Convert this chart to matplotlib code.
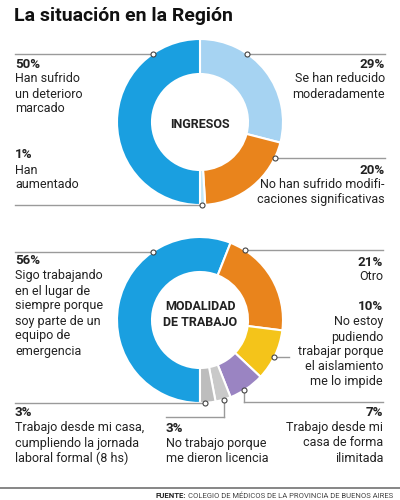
import numpy as np
import matplotlib.pyplot as plt

plt.rcParams['font.family'] = ['Roboto', 'DejaVu Sans']

# Data
ing_labels = ['Se han reducido moderadamente', 'No han sufrido modificaciones significativas',
              'Han aumentado', 'Han sufrido un deterioro marcado']
ing_values = [29, 20, 1, 50]
ing_colors = ['#a6d3f2', '#e9841c', '#c4e8f6', '#1a9fe0']

mod_labels = ['Sigo trabajando en el lugar de siempre', 'Otro', 'No estoy pudiendo trabajar',
              'Trabajo desde mi casa de forma ilimitada', 'No trabajo porque me dieron licencia',
              'Trabajo desde mi casa, jornada formal']
mod_values = [56, 21, 10, 7, 3, 3]
mod_colors = ['#1a9fe0', '#e9841c', '#f4c41a', '#9a84c2', '#c9c9c9', '#bdbdbd']

W, H = 400, 500
fig = plt.figure(figsize=(4, 5), dpi=100)
ax = fig.add_axes([0, 0, 1, 1])
ax.set_xlim(0, W)
ax.set_ylim(0, H)
ax.axis('off')

def Y(y):
    return H - y

R, RW = 83, 35
LINE = '#9a9a9a'
TXT = '#222222'
FS = 9

def donut(values, colors, cy, start):
    ax.pie(values, colors=colors, center=(200, Y(cy)), radius=R, startangle=start,
           counterclock=False, wedgeprops=dict(width=RW, edgecolor='white', linewidth=1.5))

def anchor(cy, ang):
    a = np.radians(ang)
    return 200 + R * np.sin(a), cy - R * np.cos(a)

def dot(x, y):
    ax.plot(x, Y(y), 'o', ms=3.6, mfc='white', mec='#444444', mew=0.8, zorder=5)

def hline(x0, x1, y, color=LINE, lw=1):
    ax.plot([x0, x1], [Y(y), Y(y)], color=color, lw=lw, zorder=4)

def vline(x, y0, y1):
    ax.plot([x, x], [Y(y0), Y(y1)], color=LINE, lw=1, zorder=4)

def block(x, y, pct, lines, ha='left'):
    ax.text(x, Y(y), pct, ha=ha, va='center', fontsize=9.6, fontweight='bold', color=TXT)
    for i, ln in enumerate(lines):
        ax.text(x, Y(y + 15 * (i + 1)), ln, ha=ha, va='center', fontsize=FS, color=TXT)

# Title
ax.text(14, Y(16), 'La situación en la Región', ha='left', va='center',
        fontsize=14, fontweight='bold', color='#111111')

# ---- INGRESOS ----
c1 = 122
donut(ing_values, ing_colors, c1, 90)
ax.text(200, Y(c1 + 2), 'INGRESOS', ha='center', va='center', fontsize=9,
        fontweight='bold', color=TXT)

x, y = anchor(c1, -34.5); hline(15, x, y); dot(x, y)
x, y = anchor(c1, 34.5); hline(x, 385, y); dot(x, y)
x, y = anchor(c1, 116); hline(x, 385, y); dot(x, y)
x, y = anchor(c1, 178.8); hline(15, x, y); dot(x, y)

block(15, 64, f'{ing_values[3]}%', ['Han sufrido', 'un deterioro', 'marcado'])
block(15, 155, f'{ing_values[2]}%', ['Han', 'aumentado'])
block(385, 64, f'{ing_values[0]}%', ['Se han reducido', 'moderadamente'], ha='right')
block(385, 170, f'{ing_values[1]}%', ['No han sufrido modifi-', 'caciones significativas'], ha='right')

# ---- MODALIDAD DE TRABAJO ----
c2 = 320
donut(mod_values, mod_colors, c2, -90)
ax.text(200, Y(307), 'MODALIDAD', ha='center', va='center', fontsize=9,
        fontweight='bold', color=TXT)
ax.text(200, Y(322), 'DE TRABAJO', ha='center', va='center', fontsize=9,
        fontweight='bold', color=TXT)

x, y = anchor(c2, -34.5); hline(15, x, y); dot(x, y)
x, y = anchor(c2, 33); hline(x, 383, y); dot(x, y)
x, y = anchor(c2, 116.5); hline(x, 289, y); dot(x, y)
x, y = anchor(c2, 148); vline(x, y, 402); hline(x, 383, 402); dot(x, y)
x, y = anchor(c2, 176.5); hline(15, x, y); dot(x, y)
x, y = anchor(c2, 163.5); vline(x, y, 417); hline(166, x, 417); dot(x, y)

block(15, 261, f'{mod_values[0]}%', ['Sigo trabajando', 'en el lugar de', 'siempre porque',
                                     'soy parte de un', 'equipo de', 'emergencia'])
block(15, 413, f'{mod_values[5]}%', ['Trabajo desde mi casa,', 'cumpliendo la jornada',
                                     'laboral formal (8 hs)'])
block(166, 428, f'{mod_values[4]}%', ['No trabajo porque', 'me dieron licencia'])
block(383, 262, f'{mod_values[1]}%', ['Otro'], ha='right')
block(383, 307, f'{mod_values[2]}%', ['No estoy', 'pudiendo', 'trabajar porque',
                                      'el aislamiento', 'me lo impide'], ha='right')
block(383, 413, f'{mod_values[3]}%', ['Trabajo desde mi', 'casa de forma', 'ilimitada'], ha='right')

# Footer
hline(0, 400, 488, color='#666666', lw=1.1)
ax.text(156, Y(496), 'FUENTE:', ha='left', va='center', fontsize=5.6, fontweight='bold', color=TXT)
ax.text(188, Y(496), 'COLEGIO DE MÉDICOS DE LA PROVINCIA DE BUENOS AIRES', ha='left',
        va='center', fontsize=5.5, color='#444444')

ax.set_aspect('equal', adjustable='datalim')
ax.set_xlim(0, W)
ax.set_ylim(0, H)

fig.savefig('out.png', dpi=100, facecolor='white')
